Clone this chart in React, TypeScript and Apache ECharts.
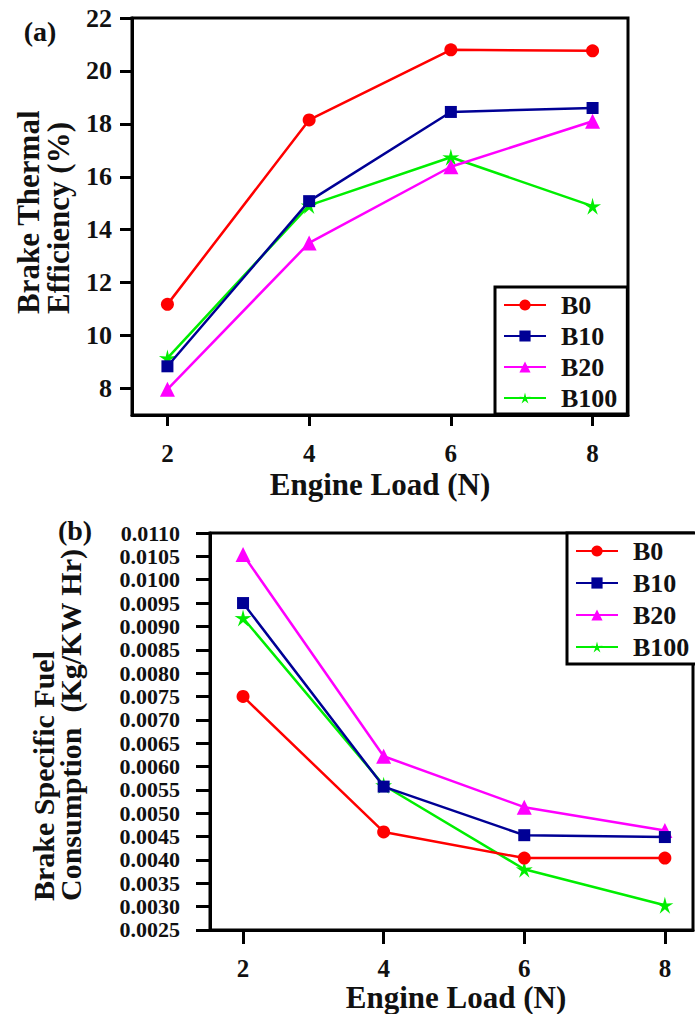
import React, { useEffect, useRef } from "react";
import * as echarts from "echarts";

const seriesNames = ["B0", "B10", "B20", "B100"];
const engineLoad = [2, 4, 6, 8];

// (a) Brake Thermal Efficiency (%)
const bteB0 = [11.18, 18.15, 20.8, 20.76];
const bteB10 = [8.84, 15.08, 18.45, 18.6];
const bteB20 = [7.97, 13.5, 16.38, 18.1];
const bteB100 = [9.15, 14.92, 16.74, 14.89];

// (b) Brake Specific Fuel Consumption (Kg/KW Hr)
const bsfcB0 = [0.0075, 0.0046, 0.00404, 0.00404];
const bsfcB10 = [0.0095, 0.00557, 0.00453, 0.00449];
const bsfcB20 = [0.01054, 0.00622, 0.00513, 0.00463];
const bsfcB100 = [0.00918, 0.0056, 0.0038, 0.00303];

const xTicks = [2, 4, 6, 8];
const bteTicks = [8, 10, 12, 14, 16, 18, 20, 22];
const bsfcTicks = [
  0.0025, 0.003, 0.0035, 0.004, 0.0045, 0.005, 0.0055, 0.006, 0.0065, 0.007,
  0.0075, 0.008, 0.0085, 0.009, 0.0095, 0.01, 0.0105, 0.011,
];

const colors = ["#ff0000", "#000095", "#ff00ff", "#00ee00"];
const STAR =
  "path://M12,0 L14.35,8.76 L23.41,8.29 L15.8,13.24 L19.05,21.71 L12,16 L4.95,21.71 L8.2,13.24 L0.59,8.29 L9.65,8.76 Z";
const symbols = ["circle", "rect", "triangle", STAR];
const symbolSizes = [13, 12, 15, 17];

const FONT = "'Liberation Serif', 'Times New Roman', serif";
const TXT = "#111111";

export default function App() {
  const ref = useRef<HTMLDivElement>(null);

  useEffect(() => {
    if (!ref.current) return;
    const chart = echarts.init(ref.current, undefined, { renderer: "svg" });

    const bte = [bteB0, bteB10, bteB20, bteB100];
    const bsfc = [bsfcB0, bsfcB10, bsfcB20, bsfcB100];

    const mkSeries = (data: number[][], idx: number) =>
      seriesNames.map((name, i) => ({
        name,
        type: "line",
        xAxisIndex: idx,
        yAxisIndex: idx,
        data: engineLoad.map((x, k) => [x, data[i][k]]),
        color: colors[i],
        symbol: symbols[i],
        symbolSize: symbolSizes[i],
        lineStyle: { width: 2.5, color: colors[i] },
        itemStyle: { color: colors[i] },
        z: 10 - i,
      }));

    const axisCommon = {
      axisLine: { show: true, lineStyle: { color: "#000", width: 3 } },
      splitLine: { show: false },
    };

    const legendCommon = {
      orient: "vertical",
      borderColor: "#000",
      borderWidth: 3,
      backgroundColor: "#fff",
      itemWidth: 42,
      itemHeight: 14,
      selectedMode: false,
      textStyle: {
        fontFamily: FONT,
        fontWeight: "bold",
        fontSize: 26,
        color: TXT,
        padding: [0, 0, 0, 10],
      },
      data: seriesNames,
    };

    const xLabel = {
      customValues: xTicks,
      margin: 26,
      fontFamily: FONT,
      fontWeight: "bold",
      fontSize: 25,
      color: TXT,
    };

    const option = {
      animation: false,
      backgroundColor: "#fff",
      grid: [
        {
          left: 132,
          top: 18,
          width: 496,
          height: 397,
          show: true,
          borderColor: "#000",
          borderWidth: 3,
          containLabel: false,
        },
        {
          left: 210,
          top: 533,
          width: 483,
          height: 397,
          show: true,
          borderColor: "#000",
          borderWidth: 3,
          containLabel: false,
        },
      ],
      xAxis: [
        {
          type: "value",
          gridIndex: 0,
          min: 1.5,
          max: 8.5,
          ...axisCommon,
          axisTick: {
            show: true,
            length: 11,
            lineStyle: { width: 3, color: "#000" },
            customValues: xTicks,
          },
          axisLabel: xLabel,
        },
        {
          type: "value",
          gridIndex: 1,
          min: 1.53,
          max: 8.4,
          ...axisCommon,
          axisTick: {
            show: true,
            length: 14,
            lineStyle: { width: 3, color: "#000" },
            customValues: xTicks,
          },
          axisLabel: xLabel,
        },
      ],
      yAxis: [
        {
          type: "value",
          gridIndex: 0,
          min: 7,
          max: 22,
          ...axisCommon,
          axisTick: {
            show: true,
            length: 12,
            lineStyle: { width: 3, color: "#000" },
            customValues: bteTicks,
          },
          axisLabel: {
            customValues: bteTicks,
            showMinLabel: true,
            showMaxLabel: true,
            margin: 20,
            fontFamily: FONT,
            fontWeight: "bold",
            fontSize: 26,
            color: TXT,
          },
        },
        {
          type: "value",
          gridIndex: 1,
          min: 0.00249999,
          max: 0.01100001,
          ...axisCommon,
          axisTick: {
            show: true,
            length: 14,
            lineStyle: { width: 3, color: "#000" },
            customValues: bsfcTicks,
          },
          axisLabel: {
            customValues: bsfcTicks,
            showMinLabel: true,
            showMaxLabel: true,
            hideOverlap: false,
            margin: 30,
            fontFamily: FONT,
            fontWeight: "bold",
            fontSize: 22,
            color: TXT,
            formatter: (v: number) => v.toFixed(4),
          },
        },
      ],
      legend: [
        { ...legendCommon, left: 495, top: 287, padding: [5, 10, 3, 8], itemGap: 5 },
        { ...legendCommon, left: 567, top: 533, padding: [5, 10, 4, 8], itemGap: 6 },
      ],
      graphic: [
        {
          type: "text",
          x: 40,
          y: 31,
          style: {
            text: "(a)",
            font: `bold 28px ${FONT}`,
            fill: TXT,
            textAlign: "center",
            textVerticalAlign: "middle",
          },
        },
        {
          type: "text",
          x: 75,
          y: 530,
          style: {
            text: "(b)",
            font: `bold 28px ${FONT}`,
            fill: TXT,
            textAlign: "center",
            textVerticalAlign: "middle",
          },
        },
        {
          type: "text",
          x: 43,
          y: 314,
          rotation: Math.PI / 2,
          style: {
            text: "Brake Thermal\nEfficiency (%)",
            font: `bold 31px ${FONT}`,
            lineHeight: 30,
            fill: TXT,
            textAlign: "left",
            textVerticalAlign: "middle",
          },
        },
        {
          type: "text",
          x: 57,
          y: 901,
          rotation: Math.PI / 2,
          style: {
            text: "Brake Specific Fuel\nConsumption  (Kg/KW Hr)",
            font: `bold 30px ${FONT}`,
            lineHeight: 27,
            fill: TXT,
            textAlign: "left",
            textVerticalAlign: "middle",
          },
        },
        {
          type: "text",
          x: 380,
          y: 484,
          style: {
            text: "Engine Load (N)",
            font: `bold 31px ${FONT}`,
            fill: TXT,
            textAlign: "center",
            textVerticalAlign: "middle",
          },
        },
        {
          type: "text",
          x: 456,
          y: 997,
          style: {
            text: "Engine Load (N)",
            font: `bold 31px ${FONT}`,
            fill: TXT,
            textAlign: "center",
            textVerticalAlign: "middle",
          },
        },
      ],
      series: [...mkSeries(bte, 0), ...mkSeries(bsfc, 1)],
    };

    chart.setOption(option as any);
    return () => chart.dispose();
  }, []);

  return (
    <div
      ref={ref}
      style={{ position: "absolute", left: 0, top: 0, width: 695, height: 1014 }}
    />
  );
}
